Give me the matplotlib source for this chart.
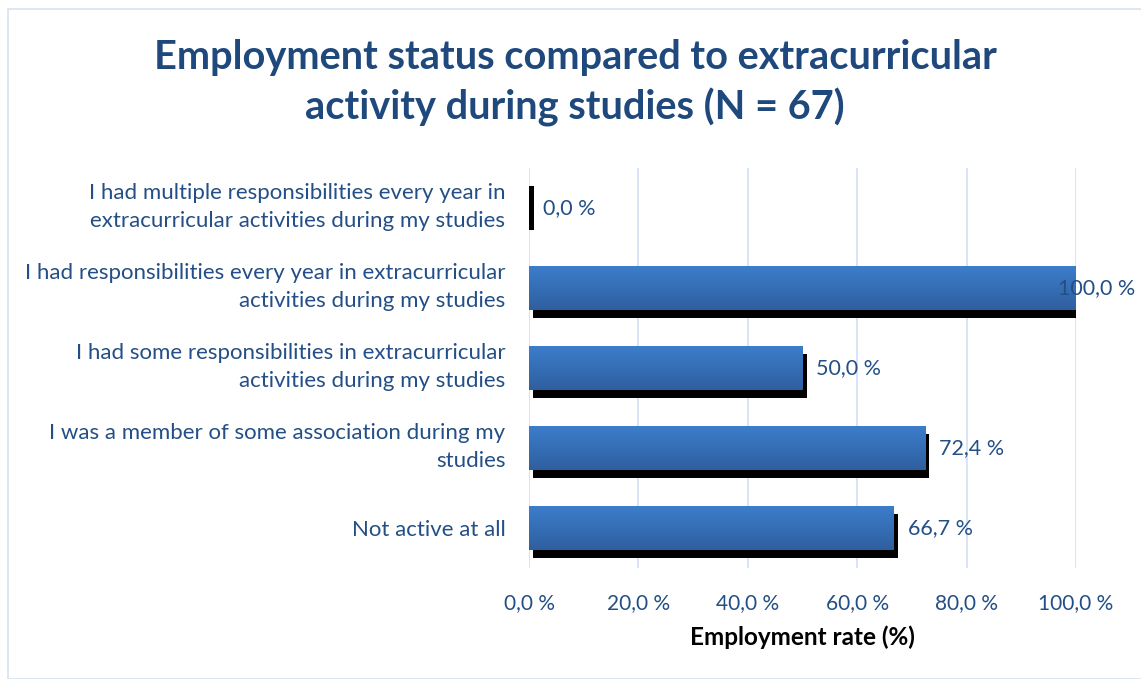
import numpy as np
import matplotlib
matplotlib.use("Agg")
import matplotlib.pyplot as plt
import matplotlib.patheffects as pe
import matplotlib.transforms as mtransforms
from matplotlib.patches import Rectangle

plt.rcParams['font.family'] = ['Lato', 'DejaVu Sans']

categories = [
    "Not active at all",
    "I was a member of some association during my\nstudies",
    "I had some responsibilities in extracurricular\nactivities during my studies",
    "I had responsibilities every year in extracurricular\nactivities during my studies",
    "I had multiple responsibilities every year in\nextracurricular activities during my studies",
]
rates = [66.7, 72.4, 50.0, 100.0, 0.0]
ticks = [0, 20, 40, 60, 80, 100]

text_blue = '#234F86'
title_blue = '#1F497D'
grid_blue = '#D6E3F3'

W, H = 1141, 679
fig = plt.figure(figsize=(W / 100, H / 100), dpi=100)

# thin light-blue frame around the chart area
fig.patches.append(Rectangle((8 / W, 0), 1, 1 - 9 / H, transform=fig.transFigure,
                             fill=False, edgecolor=grid_blue, linewidth=1.2))

ax = fig.add_axes([529 / W, 1 - 568 / H, (1076 - 529) / W, 400 / H])
y = np.arange(len(categories))

bars = ax.barh(y, rates, height=0.55, color='#3A73BC', zorder=3,
               path_effects=[pe.SimplePatchShadow(offset=(3, -6), shadow_rgbFace='black', alpha=1.0),
                             pe.Normal()])

# vertical gradient fill on every bar (lighter at the top)
grad = np.linspace(0, 1, 64).reshape(-1, 1)
cmap = matplotlib.colors.LinearSegmentedColormap.from_list('bar', ['#2F5F9F', '#3C7DCB'])
for b in bars:
    x0, y0, w, h = b.get_x(), b.get_y(), b.get_width(), b.get_height()
    if w <= 0:
        continue
    im = ax.imshow(grad, cmap=cmap, aspect='auto', extent=(x0, x0 + w, y0 + h, y0),
                   zorder=4, interpolation='bicubic')
    im.set_clip_path(b)

# a zero-width bar still shows as a thin black sliver
for yi, v in zip(y, rates):
    if v == 0:
        ax.add_patch(Rectangle((0, yi - 0.275), 0.9, 0.55, facecolor='black',
                               edgecolor='none', zorder=3))

ax.set_xlim(0, 100)
ax.set_ylim(-0.5, len(categories) - 0.5)
ax.set_xticks(ticks)
ax.set_xticklabels([f"{t:.1f} %".replace('.', ',') for t in ticks], color=text_blue, fontsize=15)
ax.set_yticks(y)
ax.set_yticklabels(categories, color=text_blue, fontsize=16, linespacing=1.5)
ax.tick_params(length=0, pad=17, axis='y')
ax.tick_params(length=0, pad=18, axis='x')
ax.grid(axis='x', color=grid_blue, linewidth=1.3, zorder=0)
for s in ax.spines.values():
    s.set_visible(False)
ax.axvline(0, color=grid_blue, linewidth=1.3, zorder=1)

# two-line labels sit a little low when centred; nudge them up
nudge = mtransforms.ScaledTranslation(0, 5 / 72, fig.dpi_scale_trans)
for lbl in ax.get_yticklabels():
    if "\n" in lbl.get_text():
        lbl.set_transform(lbl.get_transform() + nudge)

ax.set_xlabel("Employment rate (%)", fontsize=17.5, fontweight='bold', color='black', labelpad=9)

# value labels; the one at 100 % is pulled back over the bar end
for yi, v in zip(y, rates):
    label = f"{v:.1f} %".replace('.', ',')
    dx = -13 if v >= 100 else 10
    ax.annotate(label, (v, yi), xytext=(dx, 0), textcoords='offset points',
                va='center', ha='left', fontsize=15.5, color=text_blue, zorder=6)

fig.text(575 / W, 1 - 83 / H, "Employment status compared to extracurricular\nactivity during studies (N = 67)",
         ha='center', va='center', fontsize=28.6, fontweight='bold', color=title_blue, linespacing=1.4)

fig.savefig("out.png", dpi=100)
